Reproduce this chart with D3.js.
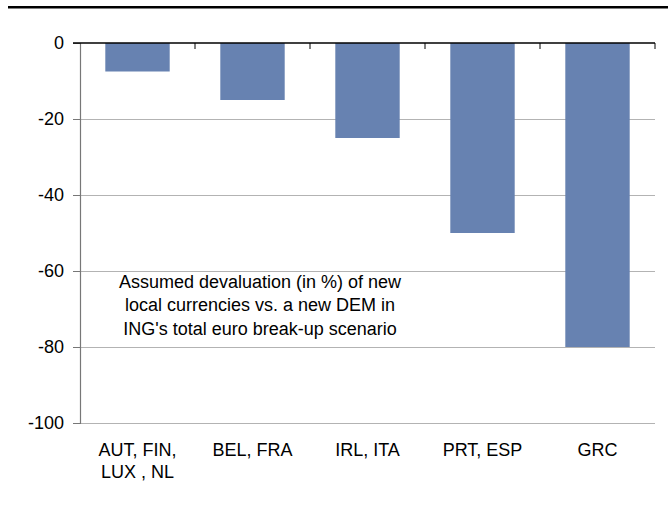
<!DOCTYPE html>
<html>
<head>
<meta charset="utf-8">
<script src="https://cdn.jsdelivr.net/npm/d3@7"></script>
<style>
  html, body { margin: 0; padding: 0; background: #fff; }
  svg { display: block; font-family: "Liberation Sans", Arial, sans-serif; }
</style>
</head>
<body>
<svg id="chart" width="668" height="507"></svg>
<script>
const categories = [["AUT, FIN,", "LUX , NL"], ["BEL, FRA"], ["IRL, ITA"], ["PRT, ESP"], ["GRC"]];
const categoryKeys = ["AUT, FIN, LUX , NL", "BEL, FRA", "IRL, ITA", "PRT, ESP", "GRC"];
const values = [-7.5, -15, -25, -50, -80];
const yTicks = [0, -20, -40, -60, -80, -100];
const note = ["Assumed devaluation (in %) of new", "local currencies vs. a new DEM in", "ING's total euro break-up scenario"];

const svg = d3.select("#chart");
const pLeft = 80, pRight = 655, pTop = 43, pBottom = 423;
const fs = 18;

const x = d3.scaleBand().domain(categoryKeys).range([pLeft, pRight]).paddingInner(0.44).paddingOuter(0.22);
const xb = d3.scaleBand().domain(categoryKeys).range([pLeft, pRight]);
const y = d3.scaleLinear().domain([-100, 0]).range([pBottom, pTop]);

// top rule
svg.append("line").attr("x1", 8).attr("x2", 668).attr("y1", 7.3).attr("y2", 7.3)
  .attr("stroke", "#000").attr("stroke-width", 2.6);

// gridlines
svg.append("g").selectAll("line").data(yTicks.filter(d => d !== 0)).join("line")
  .attr("x1", pLeft).attr("x2", pRight)
  .attr("y1", d => Math.round(y(d)) + 0.5).attr("y2", d => Math.round(y(d)) + 0.5)
  .attr("stroke", "#b3b3b3").attr("stroke-width", 1.2);

// bars
svg.append("g").selectAll("rect").data(values).join("rect")
  .attr("x", (d, i) => x(categoryKeys[i]))
  .attr("width", x.bandwidth())
  .attr("y", y(0))
  .attr("height", d => y(d) - y(0))
  .attr("fill", "#6782b1");

// y axis
const yAxis = d3.axisLeft(y).tickValues(yTicks).tickSize(7).tickPadding(9).tickFormat(d3.format("d"));
const gy = svg.append("g").attr("transform", `translate(${pLeft},0)`).call(yAxis);
gy.select(".domain").attr("stroke", "#777").attr("stroke-width", 1.2);
gy.selectAll(".tick line").attr("stroke", "#777");
gy.selectAll(".tick text").attr("font-size", fs).attr("fill", "#000")
  .attr("font-family", "Liberation Sans, Arial, sans-serif").text(d => String(d));

// zero line (x axis at top)
svg.append("line").attr("x1", pLeft - 7).attr("x2", pRight).attr("y1", y(0)).attr("y2", y(0))
  .attr("stroke", "#000").attr("stroke-width", 1.3);
const bounds = categoryKeys.map(k => xb(k)).concat([pRight]);
svg.append("g").selectAll("line").data(bounds.slice(1)).join("line")
  .attr("x1", d => d).attr("x2", d => d).attr("y1", y(0)).attr("y2", y(0) + 6)
  .attr("stroke", "#000").attr("stroke-width", 1);

// x labels
const xl = svg.append("g").selectAll("text").data(categories).join("text")
  .attr("x", (d, i) => xb(categoryKeys[i]) + xb.bandwidth() / 2)
  .attr("y", 456)
  .attr("text-anchor", "middle").attr("font-size", fs).attr("fill", "#000");
xl.selectAll("tspan").data(d => d).join("tspan")
  .attr("x", function () { return d3.select(this.parentNode).attr("x"); })
  .attr("dy", (d, i) => i === 0 ? 0 : 22)
  .text(d => d);

// annotation
svg.append("g").selectAll("text").data(note).join("text")
  .attr("x", 260).attr("y", (d, i) => 288 + i * 23.3)
  .attr("text-anchor", "middle").attr("font-size", fs).attr("fill", "#000")
  .text(d => d);
</script>
</body>
</html>
